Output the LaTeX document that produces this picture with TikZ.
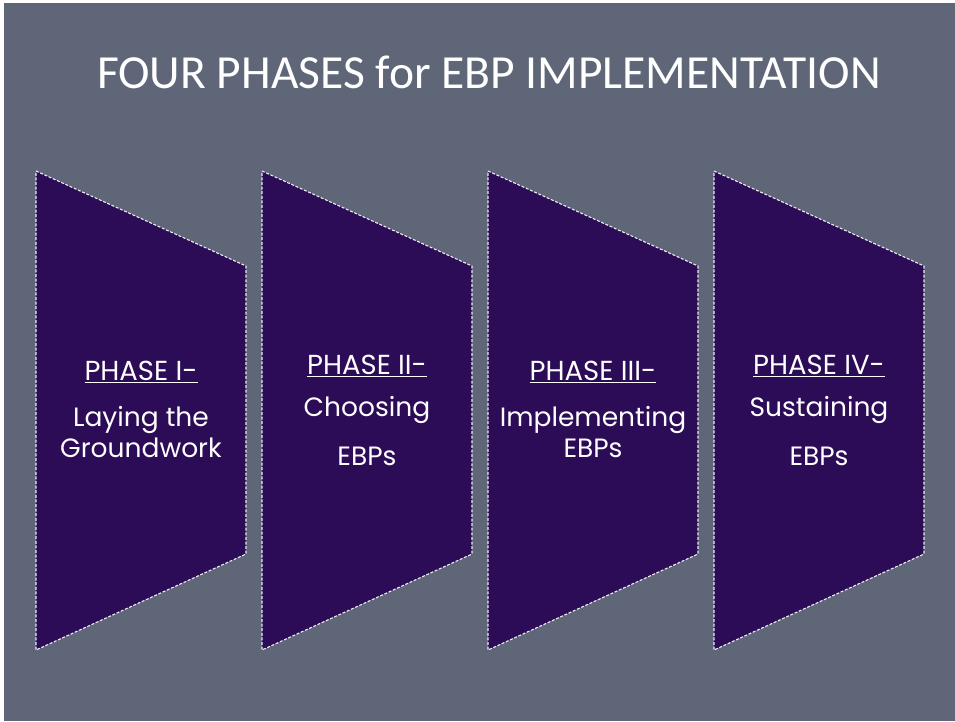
\documentclass[tikz,border=0pt]{standalone}
\usepackage{fontspec}
\setmainfont{Carlito}
\newfontfamily\phasefont{Poppins}
\definecolor{slidebg}{HTML}{5E6678}
\definecolor{phasefill}{HTML}{2C0B57}
\definecolor{phaseedge}{HTML}{EEEEF4}
\begin{document}
\begin{tikzpicture}[x=1pt, y=-1pt,
	phase/.style={draw=phaseedge, fill=phasefill, line width=1.1pt, dash pattern=on 3pt off 1.6pt},
	phasehead/.style={text=white, font=\phasefont\fontsize{27.5}{32}\selectfont, inner sep=0pt},
	phasetext/.style={text=white, font=\phasefont\fontsize{26.5}{31}\selectfont, align=center, inner sep=0pt}]
	\useasboundingbox (0,0) rectangle (955,721);
	\fill[white] (0,0) rectangle (955,721);
	\fill[slidebg] (4,3) rectangle (955,721);
	\node[text=white, font=\fontsize{47.5}{56}\selectfont, inner sep=0pt] (title) at (489,72) {FOUR PHASES for EBP IMPLEMENTATION};
	\draw[phase] (36,171) -- (246,266) -- (246,554) -- (36,650) -- cycle;
	\draw[phase] (262,171) -- (472,266) -- (472,554) -- (262,650) -- cycle;
	\draw[phase] (488,171) -- (698,266) -- (698,554) -- (488,650) -- cycle;
	\draw[phase] (714,171) -- (924,266) -- (924,554) -- (714,650) -- cycle;
	\node[phasehead] (h1) at (141,372) {\underline{PHASE I-}};
	\node[phasetext] (d1) at (141,432) {Laying the\\Groundwork};
	\node[phasehead] (h2) at (367,366) {\underline{PHASE II-}};
	\node[phasetext] (d2) at (367,410) {Choosing};
	\node[phasetext] (e2) at (367,456) {EBPs};
	\node[phasehead] (h3) at (593,372) {\underline{PHASE III-}};
	\node[phasetext] (d3) at (593,432) {Implementing\\EBPs};
	\node[phasehead] (h4) at (819,366) {\underline{PHASE IV-}};
	\node[phasetext] (d4) at (819,410) {Sustaining};
	\node[phasetext] (e4) at (819,456) {EBPs};
\end{tikzpicture}
\end{document}
